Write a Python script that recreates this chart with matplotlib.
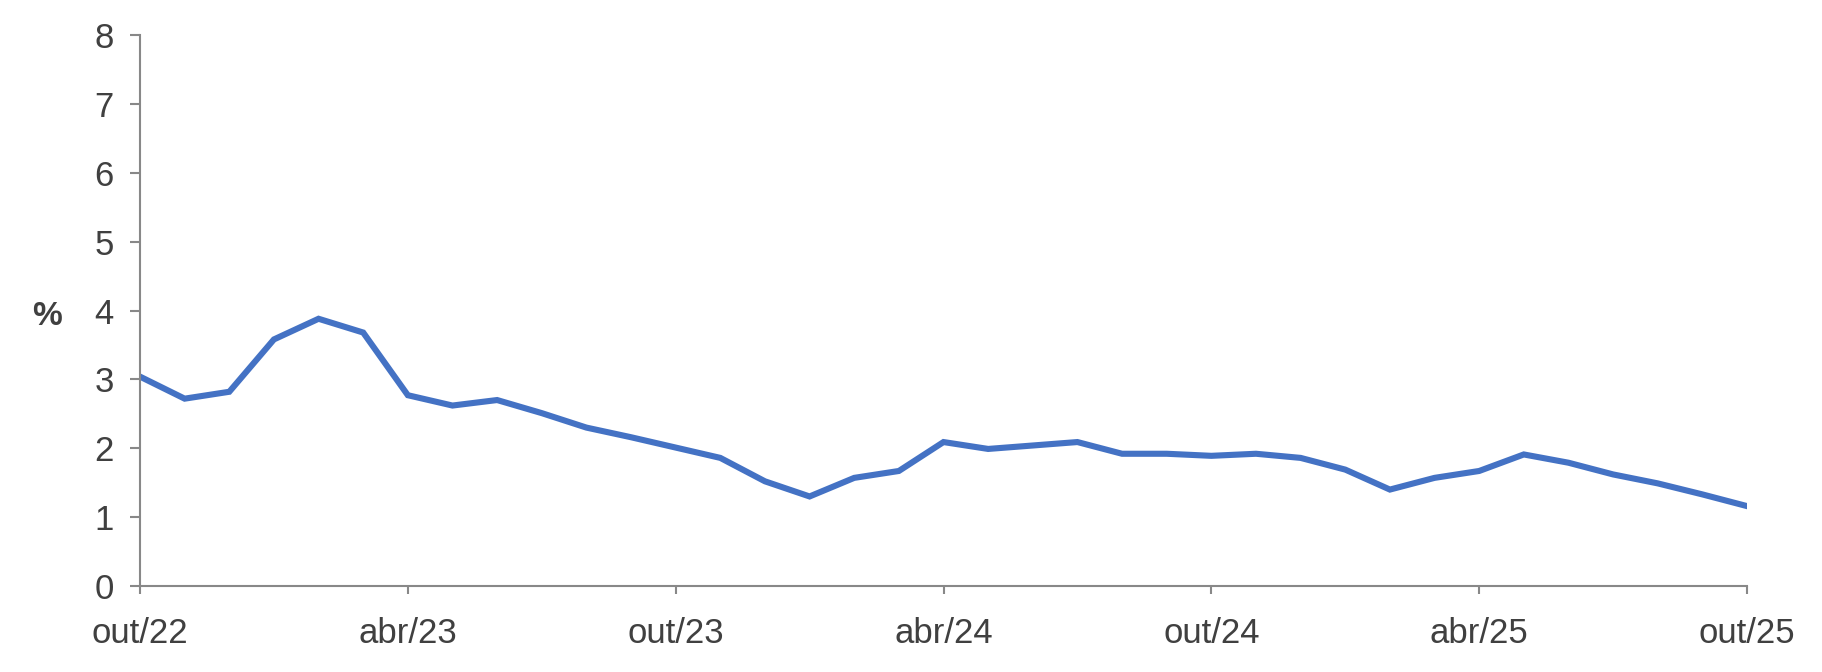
import matplotlib
matplotlib.use("Agg")
import matplotlib.pyplot as plt

plt.rcParams['font.family'] = ['Liberation Sans', 'DejaVu Sans']

months = ["out/22", "nov/22", "dez/22", "jan/23", "fev/23", "mar/23", "abr/23", "mai/23", "jun/23",
          "jul/23", "ago/23", "set/23", "out/23", "nov/23", "dez/23", "jan/24", "fev/24", "mar/24",
          "abr/24", "mai/24", "jun/24", "jul/24", "ago/24", "set/24", "out/24", "nov/24", "dez/24",
          "jan/25", "fev/25", "mar/25", "abr/25", "mai/25", "jun/25", "jul/25", "ago/25", "set/25",
          "out/25"]
values = [3.04, 2.72, 2.82, 3.58, 3.88, 3.68, 2.77, 2.62, 2.70, 2.51, 2.30, 2.16, 2.01, 1.86,
          1.52, 1.30, 1.57, 1.67, 2.09, 1.99, 2.04, 2.09, 1.92, 1.92, 1.89, 1.92, 1.86, 1.69,
          1.40, 1.57, 1.67, 1.91, 1.79, 1.62, 1.49, 1.33, 1.16]
tick_labels = ["out/22", "abr/23", "out/23", "abr/24", "out/24", "abr/25", "out/25"]
y_ticks = [0, 1, 2, 3, 4, 5, 6, 7, 8]

fig = plt.figure(figsize=(18.22, 6.72), dpi=100)
ax = fig.add_axes([140/1822, 86/672, (1747-140)/1822, (586-35)/672])

x = list(range(len(values)))
ax.plot(x, values, color="#4472C4", linewidth=4.4, solid_joinstyle="miter")

ax.set_xlim(0, len(values) - 1)
ax.set_ylim(0, 8)
ax.set_yticks(y_ticks)
tick_pos = [months.index(t) for t in tick_labels]
ax.set_xticks(tick_pos)
ax.set_xticklabels(tick_labels)

for s in ["top", "right"]:
    ax.spines[s].set_visible(False)
for s in ["left", "bottom"]:
    ax.spines[s].set_color("#888888")
    ax.spines[s].set_linewidth(1.5)

ax.tick_params(axis="y", direction="out", length=7, width=1.5, color="#888888",
               labelsize=25, labelcolor="#404040", pad=12)
ax.tick_params(axis="x", direction="out", length=6, width=1.5, color="#888888",
               labelsize=25, labelcolor="#404040", pad=16)

ax.set_ylabel("%", rotation=0, fontsize=24, fontweight="bold", color="#404040",
              va="center", ha="center")
ax.yaxis.set_label_coords(-0.058, 0.49)

fig.savefig("out.png", dpi=100)
